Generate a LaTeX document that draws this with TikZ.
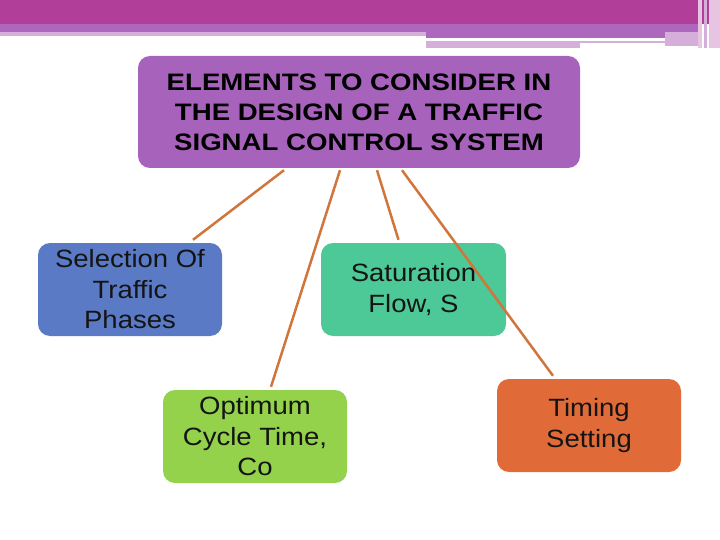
\documentclass[tikz,border=0pt]{standalone}
\usepackage{fontspec}
\setmainfont{Liberation Sans}
\newfontfamily\boxfont[FakeStretch=1.1]{Liberation Sans}
\newfontfamily\titlefont[FakeStretch=1.16]{Liberation Sans Bold}
\usetikzlibrary{calc}
\definecolor{bandA}{HTML}{B13E98}
\definecolor{bandB}{HTML}{AD67BC}
\definecolor{bandC}{HTML}{D5AEDA}
\definecolor{bandD}{HTML}{E6C4E2}
\definecolor{titlefill}{HTML}{A763BB}
\definecolor{bluefill}{HTML}{5A7AC6}
\definecolor{greenfill}{HTML}{4CC996}
\definecolor{limefill}{HTML}{93D24A}
\definecolor{orangefill}{HTML}{E06B39}
\definecolor{connc}{HTML}{D0763C}
\definecolor{txt}{HTML}{141414}
\tikzset{
  card/.style={rectangle, rounded corners=12pt, minimum width=184pt, minimum height=93pt,
    align=center, inner sep=0pt, text=txt, font=\boxfont\fontsize{25}{30.5}\selectfont},
  conn/.style={draw=connc, line width=2.5pt}
}
\begin{document}
\begin{tikzpicture}[x=1pt,y=-1pt]
\useasboundingbox (0,0) rectangle (720,540);
\fill[white] (0,0) rectangle (720,540);
% top banner
\fill[bandA] (0,0) rectangle (720,24);
\fill[bandB] (0,24) rectangle (698,32);
\fill[bandC] (0,32) rectangle (426,36);
\fill[bandB] (426,32) rectangle (665,38);
\fill[bandC] (426,41) rectangle (580,48);
\fill[bandC] (580,41) rectangle (665,43);
\fill[bandC] (665,32) rectangle (698,46);
\fill[bandD] (698,0) rectangle (702,48);
\fill[bandC] (704,0) rectangle (707,48);
\fill[bandD] (709,0) rectangle (720,48);
% nodes
\node[card, fill=titlefill, minimum width=442pt, minimum height=112pt,
      font=\titlefont\fontsize{23.8}{30}\selectfont, text=black]
  (top) at (359,112) {ELEMENTS TO CONSIDER IN\\THE DESIGN OF A TRAFFIC\\SIGNAL CONTROL SYSTEM};
\node[card, fill=bluefill] (sel) at (130,289.5) {Selection Of\\Traffic\\Phases};
\node[card, fill=greenfill, minimum width=185pt] (sat) at (413.5,289.5) {Saturation\\Flow, S};
\node[card, fill=limefill] (opt) at (255,436.5) {Optimum\\Cycle Time,\\Co};
\node[card, fill=orangefill] (tim) at (589,425.5) {Timing\\Setting};
% connectors
\draw[conn] ($(top.south)+(-75,2)$) -- ($(sel.north)+(63,-3)$);
\draw[conn] ($(top.south)+(-19,2)$) -- ($(opt.north)+(16,-3)$);
\draw[conn] ($(top.south)+(18,2)$) -- ($(sat.north)+(-15,-3)$);
\draw[conn] ($(top.south)+(43,2)$) -- ($(tim.north)+(-36,-3)$);
\end{tikzpicture}
\end{document}
